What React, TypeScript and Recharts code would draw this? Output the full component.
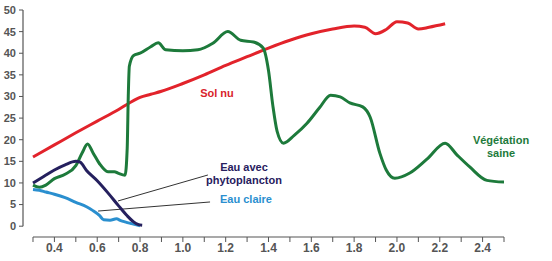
import { LineChart, Line, XAxis, YAxis, ReferenceLine } from "recharts";

// reflectance curves: [wavelength µm, %]
const solNu: [number, number][] = [
  [0.3, 16], [0.4, 18.8], [0.5, 21.6], [0.6, 24.3], [0.7, 27], [0.75, 28.5],
  [0.8, 29.8], [0.85, 30.5], [0.9, 31.2], [1.0, 33], [1.1, 35], [1.2, 37.2],
  [1.3, 39.2], [1.4, 41.2], [1.5, 43], [1.6, 44.5], [1.7, 45.6], [1.8, 46.3],
  [1.85, 46], [1.9, 44.5], [1.95, 45.5], [2.0, 47.3], [2.05, 47], [2.1, 45.6],
  [2.15, 46], [2.225, 46.8],
];

const vegetation: [number, number][] = [
  [0.3, 9.5], [0.33, 9], [0.36, 9.5], [0.4, 11], [0.45, 12], [0.5, 14],
  [0.53, 17], [0.555, 19], [0.58, 17], [0.61, 14.5], [0.65, 12.6], [0.68, 12.6],
  [0.7, 12.2], [0.73, 11.8], [0.74, 18], [0.745, 30], [0.75, 37], [0.77, 39.5],
  [0.8, 40], [0.85, 41.5], [0.885, 42.4], [0.92, 40.8], [1.0, 40.6], [1.07, 40.8],
  [1.14, 42.3], [1.21, 45], [1.27, 43], [1.33, 42.6], [1.375, 41.2], [1.4, 36],
  [1.42, 28], [1.44, 22], [1.47, 19.2], [1.52, 21], [1.58, 23.8], [1.64, 27.5],
  [1.69, 30.3], [1.735, 29.9], [1.78, 28.5], [1.84, 27.6], [1.875, 25.2],
  [1.92, 16.9], [1.95, 13], [1.99, 11.1], [2.06, 12.3], [2.14, 15.5],
  [2.225, 19.2], [2.28, 16.5], [2.34, 13.7], [2.42, 10.6], [2.5, 10.2],
];

const eauPhyto: [number, number][] = [
  [0.3, 10], [0.35, 11.5], [0.4, 13], [0.45, 14.2], [0.5, 15], [0.52, 14.8],
  [0.55, 12.9], [0.6, 10.5], [0.65, 7.7], [0.7, 4.7], [0.74, 2.4], [0.77, 1.0],
  [0.79, 0.4], [0.81, 0.2],
];

const eauClaire: [number, number][] = [
  [0.3, 8.5], [0.33, 8.3], [0.36, 7.9], [0.4, 7.4], [0.45, 6.6], [0.5, 5.5],
  [0.55, 4.5], [0.58, 3.6], [0.61, 2.5], [0.63, 1.5], [0.66, 1.4], [0.69, 1.7],
  [0.71, 1.3], [0.73, 1.0], [0.76, 0.6], [0.8, 0.1],
];

const xTicks = [
  0.3, 0.4, 0.5, 0.6, 0.7, 0.8, 0.9, 1.0, 1.1, 1.2, 1.3, 1.4, 1.5, 1.6, 1.7,
  1.8, 1.9, 2.0, 2.1, 2.2, 2.3, 2.4, 2.5,
];
const yTicks = [0, 5, 10, 15, 20, 25, 30, 35, 40, 45, 50];

const toRows = (pts: [number, number][]) => pts.map(([x, y]) => ({ x, y }));

const tickStyle = {
  fontFamily: "Liberation Sans, Arial, sans-serif",
  fontSize: 11,
  fontWeight: 700,
  fill: "#555",
};

const labelBase: React.CSSProperties = {
  position: "absolute",
  fontFamily: "Liberation Sans, Arial, sans-serif",
  fontSize: 11,
  fontWeight: 700,
  textAlign: "center",
  lineHeight: "13px",
  whiteSpace: "nowrap",
  transform: "translate(-50%, -50%)",
};

const X0 = 0.2533;

export default function App() {
  return (
    <div style={{ position: "absolute", left: 0, top: 0, width: 552, height: 261, background: "#fff" }}>
      <LineChart width={552} height={261} margin={{ top: 10, right: 48, bottom: 0, left: 0 }}>
        <XAxis
          type="number"
          dataKey="x"
          domain={[X0, 2.5]}
          ticks={xTicks}
          allowDataOverflow
          tickFormatter={(v: number) => (Math.round(v * 10) % 2 === 0 ? v.toFixed(1) : "")}
          tick={{ ...tickStyle, fontSize: 12 }}
          axisLine={false}
          tickLine={{ stroke: "#555" }}
          tickSize={5}
          tickMargin={1}
          height={24}
        />
        <YAxis
          type="number"
          domain={[-2.5, 50]}
          ticks={yTicks}
          allowDataOverflow
          tick={tickStyle}
          axisLine={false}
          tickLine={{ stroke: "#555" }}
          tickSize={4}
          tickMargin={3}
          width={23}
        />
        <ReferenceLine
          segment={[{ x: X0, y: 0 }, { x: X0, y: 50 }]}
          stroke="#555"
          strokeWidth={1.2}
          ifOverflow="visible"
        />
        <ReferenceLine
          segment={[{ x: 0.3, y: -2.5 }, { x: 2.5, y: -2.5 }]}
          stroke="#555"
          strokeWidth={1.2}
          ifOverflow="visible"
        />
        <ReferenceLine segment={[{ x: 1.117, y: 11.84 }, { x: 0.697, y: 5.83 }]} stroke="#333" strokeWidth={1} />
        <ReferenceLine segment={[{ x: 1.127, y: 5.6 }, { x: 0.604, y: 3.5 }]} stroke="#333" strokeWidth={1} />
        <Line data={toRows(solNu)} dataKey="y" type="monotone" stroke="#e2232b" strokeWidth={3} dot={false} isAnimationActive={false} />
        <Line data={toRows(vegetation)} dataKey="y" type="monotone" stroke="#1d7a3b" strokeWidth={3} dot={false} isAnimationActive={false} />
        <Line data={toRows(eauClaire)} dataKey="y" type="monotone" stroke="#2a8fcf" strokeWidth={3} dot={false} isAnimationActive={false} />
        <Line data={toRows(eauPhyto)} dataKey="y" type="monotone" stroke="#25205e" strokeWidth={3} dot={false} isAnimationActive={false} />
      </LineChart>
      <div style={{ ...labelBase, left: 217, top: 93, color: "#d9232c" }}>Sol nu</div>
      <div style={{ ...labelBase, left: 244, top: 174, color: "#27205e" }}>
        Eau avec
        <br />
        phytoplancton
      </div>
      <div style={{ ...labelBase, left: 246, top: 199, color: "#2a8fcf" }}>Eau claire</div>
      <div style={{ ...labelBase, left: 501, top: 147, color: "#1d7a3b" }}>
        Végétation
        <br />
        saine
      </div>
    </div>
  );
}
